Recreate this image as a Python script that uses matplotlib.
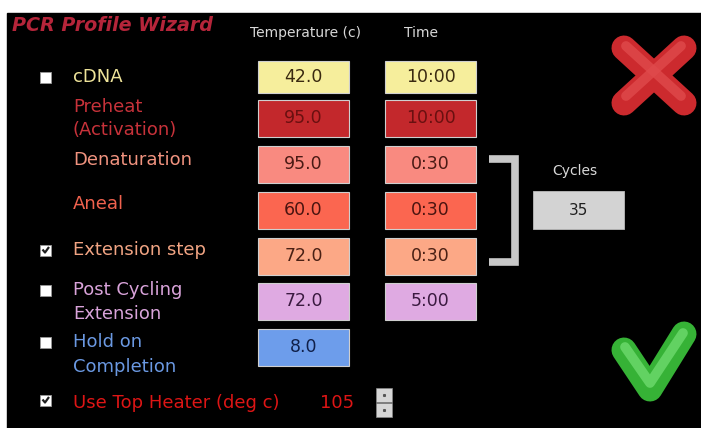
import matplotlib
matplotlib.use("Agg")
import matplotlib.pyplot as plt
from matplotlib.patches import Rectangle

# Wizard content
step_labels = ["cDNA", "Preheat\n(Activation)", "Denaturation", "Aneal",
               "Extension step", "Post Cycling\nExtension", "Hold on\nCompletion"]
temperatures = ["42.0", "95.0", "95.0", "60.0", "72.0", "72.0", "8.0"]
times = ["10:00", "10:00", "0:30", "0:30", "0:30", "5:00", None]
checkbox_state = [False, None, None, None, True, False, False]
cycles = "35"
top_heater_temp = "105"

# styles
box_colors = ["#f6ee9c", "#c3282c", "#f98a80", "#fb6650", "#fca886", "#dfaae2", "#6d9deb"]
box_text_colors = ["#3a2a10", "#6a1010", "#4a1a14", "#4a1410", "#4a2014", "#3a1a40", "#10204a"]
label_colors = ["#efe49a", "#c7323a", "#f1937f", "#f0624e", "#f1a483", "#d9a3da", "#6b99e2"]
row_y = [77, 118, 164, 210, 256, 301, 347]
label_y = [[77], [107, 130], [160], [204], [250], [290, 314], [342, 367]]

fig = plt.figure(figsize=(7.01, 4.28), dpi=100)
ax = fig.add_axes([0, 0, 1, 1])
ax.set_xlim(0, 701)
ax.set_ylim(428, 0)
ax.axis("off")
ax.add_patch(Rectangle((7, 13), 694, 415, color="black", zorder=0))

ax.text(12, 25, "PCR Profile Wizard", color="#b5253a", fontsize=13.8,
        fontweight="bold", fontstyle="italic", va="center", ha="left")
ax.text(305, 33, "Temperature (c)", color="#d8d8d8", fontsize=10, ha="center", va="center")
ax.text(421, 33, "Time", color="#d8d8d8", fontsize=10, ha="center", va="center")


def checkbox(x, y, checked):
    ax.add_patch(Rectangle((x, y - 5.5), 11, 11, facecolor="white", edgecolor="#999999", lw=0.6, zorder=3))
    if checked:
        ax.plot([x + 2.5, x + 5, x + 9], [y - 0.5, y + 2.5, y - 3], color="#202020", lw=1.6,
                solid_capstyle="butt", zorder=4)


for i, lab in enumerate(step_labels):
    for line, ly in zip(lab.split("\n"), label_y[i]):
        ax.text(73, ly, line, color=label_colors[i], fontsize=13, ha="left", va="center")
    if checkbox_state[i] is not None:
        checkbox(40, label_y[i][0], checkbox_state[i])
    y = row_y[i]
    h = 32 if i == 0 else 37
    ax.add_patch(Rectangle((258, y - h / 2), 91, h, facecolor=box_colors[i],
                           edgecolor="#cfcfcf", lw=0.8, zorder=2))
    ax.text(303.5, y, temperatures[i], color=box_text_colors[i], fontsize=12.5,
            ha="center", va="center", zorder=3)
    if times[i] is not None:
        ax.add_patch(Rectangle((385, y - h / 2), 91, h, facecolor=box_colors[i],
                               edgecolor="#cfcfcf", lw=0.8, zorder=2))
        ax.text(430.5, y, times[i], color=box_text_colors[i], fontsize=12.5,
                ha="center", va="center", zorder=3)

# cycle bracket
ax.plot([489, 515, 515, 489], [159, 159, 262, 262], color="#c8c8c8", lw=5.5,
        solid_joinstyle="miter", solid_capstyle="butt")
ax.text(575, 171, "Cycles", color="#d8d8d8", fontsize=10, ha="center", va="center")
ax.add_patch(Rectangle((533, 191), 91, 38, facecolor="#d3d3d3", edgecolor="#bbbbbb", lw=0.6))
ax.text(578.5, 210, cycles, color="#202020", fontsize=11, ha="center", va="center")

# top heater row
checkbox(40, 400, True)
ax.text(73, 403, "Use Top Heater (deg c)", color="#dd1515", fontsize=13, ha="left", va="center")
ax.text(337, 403, top_heater_temp, color="#dd1515", fontsize=13, ha="center", va="center")
for by in [388, 403]:
    ax.add_patch(Rectangle((376, by), 16, 14, facecolor="#d6d6d6", edgecolor="#888888", lw=0.5))
    ax.plot([384], [by + 7], marker="s", ms=1.2, color="#555555")

# cancel (red X)
ax.plot([624, 684], [48, 103], color="#cc2a2e", lw=18, solid_capstyle="round")
ax.plot([684, 624], [48, 103], color="#cc2a2e", lw=18, solid_capstyle="round")
ax.plot([626, 681], [46, 96], color="#e04a4c", lw=7, solid_capstyle="round", alpha=0.8)
ax.plot([681, 626], [46, 96], color="#e04a4c", lw=7, solid_capstyle="round", alpha=0.8)

# ok (green check)
ax.plot([624, 650, 684], [350, 389, 334], color="#36b236", lw=18,
        solid_capstyle="round", solid_joinstyle="round")
ax.plot([625, 650, 683], [347, 383, 333], color="#6ad86a", lw=7,
        solid_capstyle="round", solid_joinstyle="round", alpha=0.85)

fig.savefig("out.png", dpi=100, facecolor="white")
